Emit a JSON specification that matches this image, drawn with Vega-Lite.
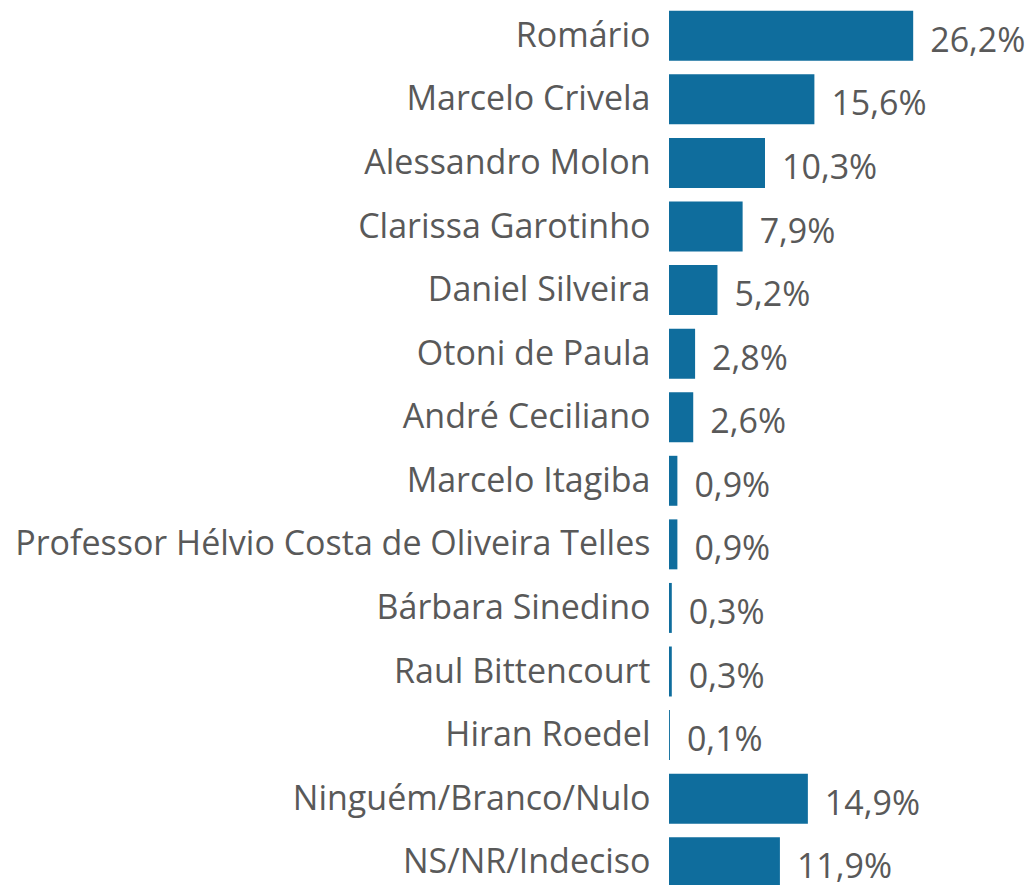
{
  "$schema": "https://vega.github.io/schema/vega-lite/v6.json",
  "autosize": "none",
  "width": 366,
  "height": 890,
  "padding": {"left": 669, "top": 4, "right": 0, "bottom": 0},
  "background": "white",
  "data": {
    "values": [
      {"nome": "Romário", "pct": 26.2, "rotulo": "26,2%"},
      {"nome": "Marcelo Crivela", "pct": 15.6, "rotulo": "15,6%"},
      {"nome": "Alessandro Molon", "pct": 10.3, "rotulo": "10,3%"},
      {"nome": "Clarissa Garotinho", "pct": 7.9, "rotulo": "7,9%"},
      {"nome": "Daniel Silveira", "pct": 5.2, "rotulo": "5,2%"},
      {"nome": "Otoni de Paula", "pct": 2.8, "rotulo": "2,8%"},
      {"nome": "André Ceciliano", "pct": 2.6, "rotulo": "2,6%"},
      {"nome": "Marcelo Itagiba", "pct": 0.9, "rotulo": "0,9%"},
      {"nome": "Professor Hélvio Costa de Oliveira Telles", "pct": 0.9, "rotulo": "0,9%"},
      {"nome": "Bárbara Sinedino", "pct": 0.3, "rotulo": "0,3%"},
      {"nome": "Raul Bittencourt", "pct": 0.3, "rotulo": "0,3%"},
      {"nome": "Hiran Roedel", "pct": 0.1, "rotulo": "0,1%"},
      {"nome": "Ninguém/Branco/Nulo", "pct": 14.9, "rotulo": "14,9%"},
      {"nome": "NS/NR/Indeciso", "pct": 11.9, "rotulo": "11,9%"}
    ]
  },
  "encoding": {
    "y": {
      "field": "nome",
      "type": "nominal",
      "sort": null,
      "scale": {"paddingInner": 0.214, "paddingOuter": 0.107},
      "axis": {
        "title": null,
        "ticks": false,
        "domain": false,
        "labelPadding": 19,
        "labelOffset": 1,
        "labelFont": "Open Sans",
        "labelFontSize": 34,
        "labelColor": "#595959",
        "labelLimit": 0
      }
    },
    "x": {
      "field": "pct",
      "type": "quantitative",
      "scale": {"domain": [0, 39.27], "nice": false, "zero": true},
      "axis": null
    }
  },
  "layer": [
    {"mark": {"type": "bar", "color": "#0F6D9D"}},
    {
      "mark": {"type": "text", "align": "left", "baseline": "middle", "dx": 17, "dy": 6, "font": "Open Sans", "fontSize": 34, "color": "#595959"},
      "encoding": {"text": {"field": "rotulo"}}
    }
  ],
  "config": {"view": {"stroke": null}}
}
